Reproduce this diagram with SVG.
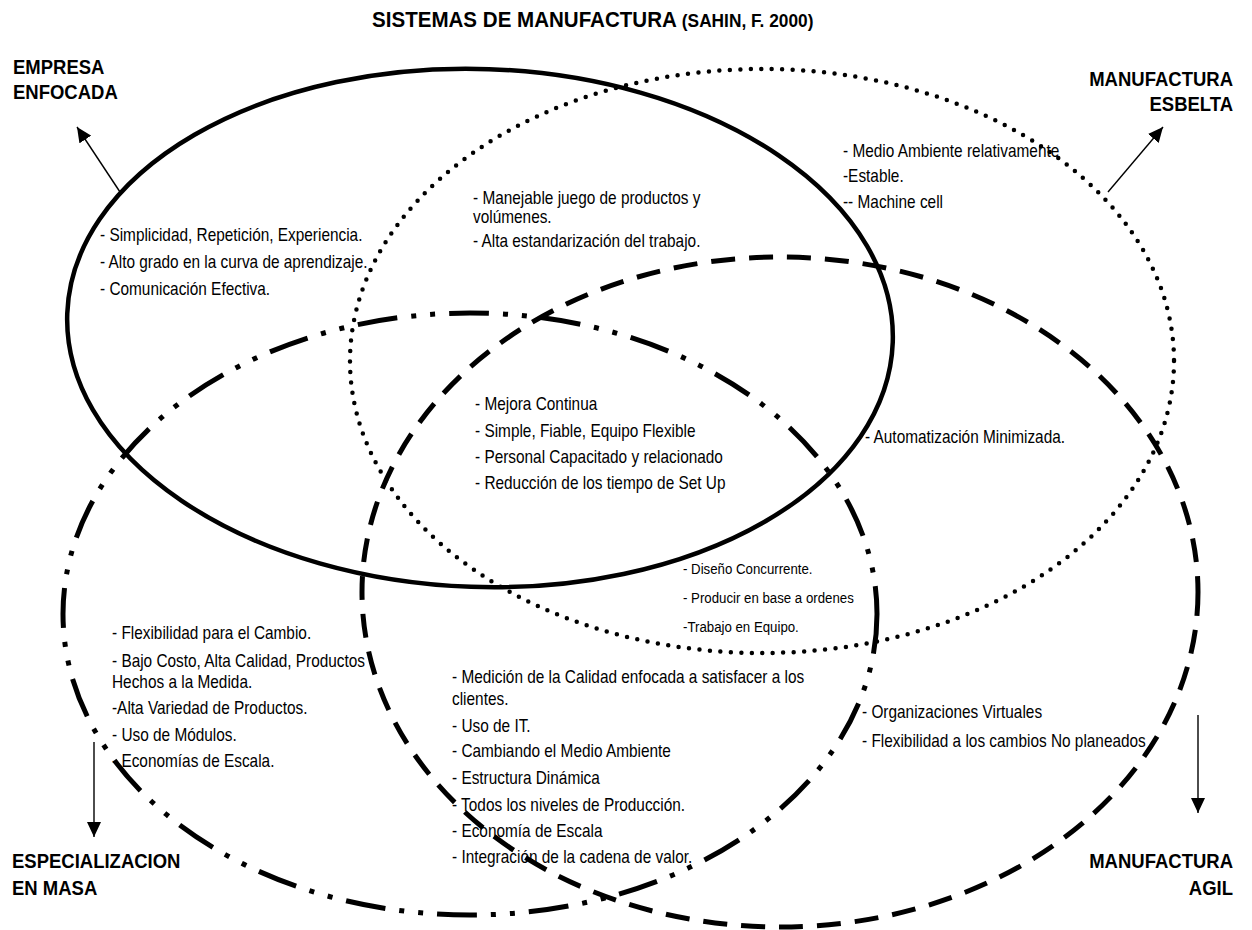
<svg xmlns="http://www.w3.org/2000/svg" width="1252" height="930" viewBox="0 0 1252 930">
<defs>
<style>
.lbl{font-family:"Liberation Sans",Arial,sans-serif;font-weight:bold;font-size:20px;fill:#000}
.t{font-family:"Liberation Sans",Arial,sans-serif;font-size:18px;fill:#000}
.ts{font-family:"Liberation Sans",Arial,sans-serif;font-size:15.5px;fill:#000}
.ell{fill:none;stroke:#000}
.arrow{stroke:#000;stroke-width:1.4;fill:none}
</style>
<marker id="ah" markerUnits="userSpaceOnUse" markerWidth="16" markerHeight="14" refX="15" refY="7" orient="auto">
<path d="M0,0 L15,7 L0,14 z" fill="#000"/>
</marker>
</defs>
<rect width="1252" height="930" fill="#fff"/>

<g id="title">
<g transform="translate(372,0) scale(0.935,1)">
<text x="0" y="27" class="lbl" style="font-size:22px">SISTEMAS DE MANUFACTURA <tspan style="font-size:18.5px">(SAHIN, F. 2000)</tspan></text>
</g>
</g>

<g id="connectors">
<ellipse class="ell" cx="480" cy="328" rx="413" ry="259" transform="rotate(2 480 328)" stroke-width="4.5"/>
<ellipse class="ell" cx="762" cy="361" rx="412" ry="292" stroke-width="4.5" stroke-linecap="round" stroke-dasharray="0 10.5"/>
<ellipse class="ell" cx="470" cy="614" rx="407" ry="301" stroke-width="5" stroke-dasharray="40 14 5 14 5 14"/>
<ellipse class="ell" cx="780" cy="592" rx="418" ry="335" stroke-width="5" stroke-dasharray="24 14"/>
<line class="arrow" x1="120" y1="192" x2="77" y2="127" marker-end="url(#ah)"/>
<line class="arrow" x1="1108" y1="192" x2="1163" y2="127" marker-end="url(#ah)"/>
<line class="arrow" x1="94" y1="742" x2="94" y2="837" marker-end="url(#ah)"/>
<line class="arrow" x1="1198" y1="715" x2="1198" y2="813" marker-end="url(#ah)"/>
</g>

<g id="empresa-enfocada">
<g transform="translate(13,0) scale(0.925,1)">
<text class="lbl" x="0" y="74">EMPRESA</text>
<text class="lbl" x="0" y="99">ENFOCADA</text>
</g>
<g transform="translate(100,0) scale(0.855,1)">
<text class="t" x="0" y="241">- Simplicidad, Repetición, Experiencia.</text>
<text class="t" x="0" y="268">- Alto grado en la curva de aprendizaje.</text>
<text class="t" x="0" y="295">- Comunicación Efectiva.</text>
</g>
</g>

<g id="manufactura-esbelta">
<g transform="translate(1233,0) scale(0.925,1)">
<text class="lbl" x="0" y="86" text-anchor="end">MANUFACTURA</text>
<text class="lbl" x="0" y="111" text-anchor="end">ESBELTA</text>
</g>
<g transform="translate(843,0) scale(0.855,1)">
<text class="t" x="0" y="157">-  Medio Ambiente relativamente</text>
<text class="t" x="0" y="182">-Estable.</text>
<text class="t" x="0" y="208">-- Machine cell</text>
</g>
</g>

<g id="enfocada-esbelta">
<g transform="translate(473,0) scale(0.855,1)">
<text class="t" x="0" y="204">- Manejable juego de productos y</text>
<text class="t" x="0" y="223">volúmenes.</text>
<text class="t" x="0" y="247">- Alta estandarización del trabajo.</text>
</g>
</g>

<g id="centro">
<g transform="translate(475,0) scale(0.855,1)">
<text class="t" x="0" y="410">-  Mejora Continua</text>
<text class="t" x="0" y="437">- Simple, Fiable, Equipo Flexible</text>
<text class="t" x="0" y="463">- Personal Capacitado y relacionado</text>
<text class="t" x="0" y="489">- Reducción de los tiempo de Set Up</text>
</g>
</g>

<g id="esbelta-agil">
<g transform="translate(865,0) scale(0.855,1)">
<text class="t" x="0" y="443">-  Automatización Minimizada.</text>
</g>
</g>

<g id="esbelta-agil-masa">
<g transform="translate(683,0) scale(0.855,1)">
<text class="ts" x="0" y="574">- Diseño Concurrente.</text>
<text class="ts" x="0" y="603">- Producir en base a ordenes</text>
<text class="ts" x="0" y="632">-Trabajo en Equipo.</text>
</g>
</g>

<g id="especializacion-en-masa">
<g transform="translate(12,0) scale(0.925,1)">
<text class="lbl" x="0" y="868">ESPECIALIZACION</text>
<text class="lbl" x="0" y="895">EN MASA</text>
</g>
<g transform="translate(112,0) scale(0.855,1)">
<text class="t" x="0" y="639">- Flexibilidad para el Cambio.</text>
<text class="t" x="0" y="667">- Bajo Costo, Alta Calidad, Productos</text>
<text class="t" x="0" y="688">Hechos a la Medida.</text>
<text class="t" x="0" y="714">-Alta Variedad de Productos.</text>
<text class="t" x="0" y="741">- Uso de Módulos.</text>
<text class="t" x="0" y="767">- Economías de Escala.</text>
</g>
</g>

<g id="masa-agil">
<g transform="translate(452,0) scale(0.855,1)">
<text class="t" x="0" y="683">- Medición de la Calidad enfocada a satisfacer a los</text>
<text class="t" x="0" y="705">clientes.</text>
<text class="t" x="0" y="732">- Uso de IT.</text>
<text class="t" x="0" y="757">- Cambiando el Medio Ambiente</text>
<text class="t" x="0" y="784">- Estructura Dinámica</text>
<text class="t" x="0" y="811">- Todos los niveles de Producción.</text>
<text class="t" x="0" y="837">- Economía de Escala</text>
<text class="t" x="0" y="863">- Integración de la cadena de valor.</text>
</g>
</g>

<g id="manufactura-agil">
<g transform="translate(1233,0) scale(0.925,1)">
<text class="lbl" x="0" y="868" text-anchor="end">MANUFACTURA</text>
<text class="lbl" x="0" y="895" text-anchor="end">AGIL</text>
</g>
<g transform="translate(862,0) scale(0.855,1)">
<text class="t" x="0" y="718">- Organizaciones Virtuales</text>
<text class="t" x="0" y="747">- Flexibilidad a los cambios No planeados</text>
</g>
</g>
</svg>
